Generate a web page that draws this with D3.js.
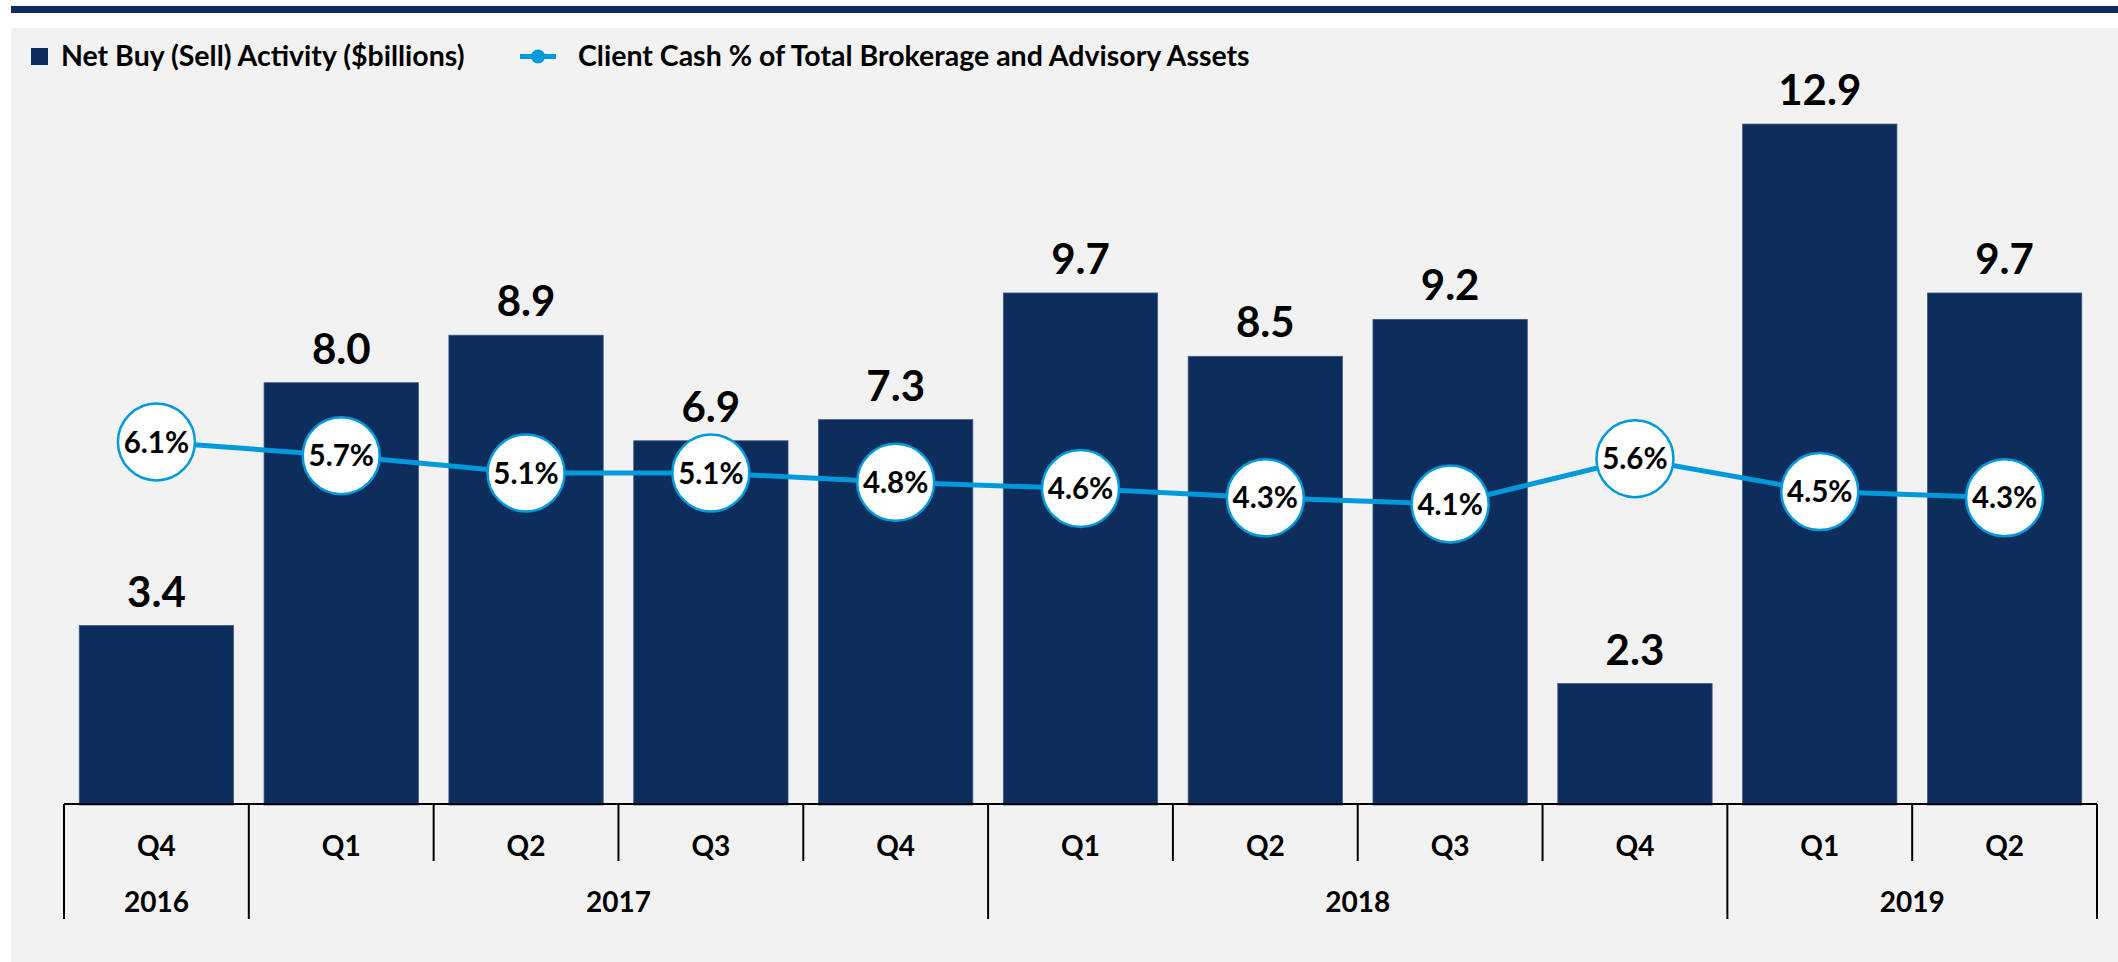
<!DOCTYPE html>
<html>
<head>
<meta charset="utf-8">
<script src="https://cdn.jsdelivr.net/npm/d3@7"></script>
<style>
  html, body { margin: 0; padding: 0; background: #ffffff; }
  svg { display: block; }
  text { font-family: Lato, "Open Sans", sans-serif; font-weight: 700; fill: #000; }
</style>
</head>
<body>
<svg id="chart" width="2118" height="962"></svg>
<script>
// ---- data ----
const quarters = ["Q4", "Q1", "Q2", "Q3", "Q4", "Q1", "Q2", "Q3", "Q4", "Q1", "Q2"];
const years    = ["2016", "2017", "2017", "2017", "2017", "2018", "2018", "2018", "2018", "2019", "2019"];
const netBuy   = [3.4, 8.0, 8.9, 6.9, 7.3, 9.7, 8.5, 9.2, 2.3, 12.9, 9.7];
const cashPct  = [6.1, 5.66, 5.1, 5.1, 4.8, 4.6, 4.3, 4.1, 5.56, 4.5, 4.3];
const legendLabels = ["Net Buy (Sell) Activity ($billions)", "Client Cash % of Total Brokerage and Advisory Assets"];

const NAVY = "#0d2d5d";
const BLUE = "#0099db";

const svg = d3.select("#chart");
const keys = quarters.map((q, i) => years[i] + " " + q);

// background
svg.append("rect").attr("x", 0).attr("y", 0).attr("width", 2118).attr("height", 962).attr("fill", "#ffffff");
svg.append("rect").attr("x", 11).attr("y", 6).attr("width", 2107).attr("height", 7).attr("fill", NAVY);
svg.append("rect").attr("x", 11).attr("y", 28).attr("width", 2107).attr("height", 934).attr("fill", "#f2f2f2");

// scales
const x = d3.scaleBand().domain(keys).range([64, 2097]).paddingInner(0.165).paddingOuter(0.0825);
const step = x.step();
const xLeft = i => 64 + i * step;
const y = d3.scaleLinear().domain([0, 14]).range([805, 66]);
const yLine = d3.scaleLinear().domain([4.1, 6.1]).range([504, 442]);

// bars
svg.append("g").selectAll("rect").data(netBuy).join("rect")
  .attr("x", (d, i) => x(keys[i]))
  .attr("y", d => y(d))
  .attr("width", x.bandwidth())
  .attr("height", d => y(0) - y(d))
  .attr("fill", NAVY)
  .attr("stroke", "#3f5a82").attr("stroke-width", 0.8);

// bar labels
svg.append("g").selectAll("text").data(netBuy).join("text")
  .attr("x", (d, i) => x(keys[i]) + x.bandwidth() / 2)
  .attr("y", d => y(d) - 19)
  .attr("text-anchor", "middle")
  .attr("font-size", 42)
  .text(d => d3.format(".1f")(d));

// line
const line = d3.line().x((d, i) => x(keys[i]) + x.bandwidth() / 2).y(d => yLine(d));
svg.append("path").datum(cashPct).attr("d", line)
  .attr("fill", "none").attr("stroke", BLUE).attr("stroke-width", 5);

const pts = svg.append("g").selectAll("g").data(cashPct).join("g")
  .attr("transform", (d, i) => `translate(${x(keys[i]) + x.bandwidth() / 2},${yLine(d)})`);
pts.append("circle").attr("r", 38.5).attr("fill", "#ffffff").attr("stroke", BLUE).attr("stroke-width", 2.5);
pts.append("text").attr("text-anchor", "middle").attr("dy", "0.36em").attr("font-size", 29.5)
  .text(d => d3.format(".1f")(d) + "%");

// category axis
const axis = svg.append("g");
axis.append("line").attr("x1", 64).attr("x2", 2097).attr("y1", 804).attr("y2", 804)
  .attr("stroke", "#000").attr("stroke-width", 2.2);

// year groups
const groups = [];
years.forEach((yr, i) => {
  if (!groups.length || groups[groups.length - 1].year !== yr) groups.push({ year: yr, start: i, end: i + 1 });
  else groups[groups.length - 1].end = i + 1;
});
const boundaries = new Set(groups.map(g => g.start).concat([keys.length]));

d3.range(keys.length + 1).forEach(i => {
  const long = boundaries.has(i);
  axis.append("line")
    .attr("x1", xLeft(i)).attr("x2", xLeft(i))
    .attr("y1", 804).attr("y2", long ? 919 : 861)
    .attr("stroke", "#000").attr("stroke-width", 2);
});

axis.selectAll("text.q").data(quarters).join("text").attr("class", "q")
  .attr("x", (d, i) => x(keys[i]) + x.bandwidth() / 2)
  .attr("y", 856)
  .attr("text-anchor", "middle").attr("font-size", 28)
  .text(d => d);

axis.selectAll("text.yr").data(groups).join("text").attr("class", "yr")
  .attr("x", g => (xLeft(g.start) + xLeft(g.end)) / 2)
  .attr("y", 912)
  .attr("text-anchor", "middle").attr("font-size", 28)
  .text(g => g.year);

// legend
const lg = svg.append("g");
lg.append("rect").attr("x", 31).attr("y", 48).attr("width", 17).attr("height", 17).attr("fill", NAVY);
lg.append("text").attr("x", 61).attr("y", 66).attr("font-size", 28.5).text(legendLabels[0]);
lg.append("line").attr("x1", 520).attr("x2", 556).attr("y1", 56.5).attr("y2", 56.5)
  .attr("stroke", BLUE).attr("stroke-width", 5);
lg.append("circle").attr("cx", 538).attr("cy", 56.5).attr("r", 7).attr("fill", BLUE);
lg.append("text").attr("x", 578).attr("y", 66).attr("font-size", 28.5).text(legendLabels[1]);
</script>
</body>
</html>
